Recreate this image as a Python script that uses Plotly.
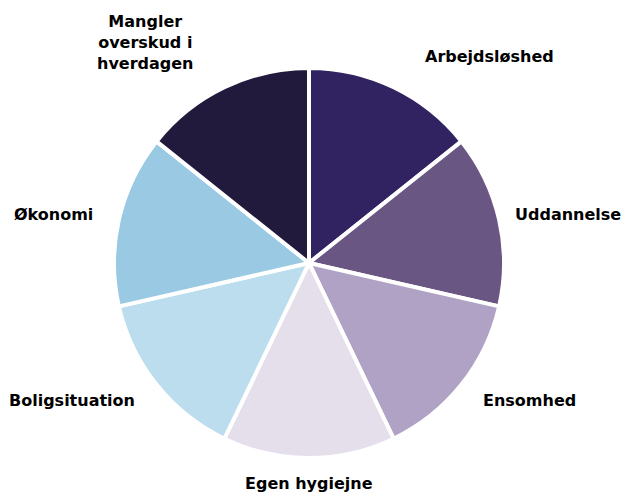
import math
import plotly.graph_objects as go

# Temaer - lige store andele
labels = ["Arbejdsløshed", "Uddannelse", "Ensomhed", "Egen hygiejne",
          "Boligsituation", "Økonomi", "Mangler<br>overskud i<br>hverdagen"]
values = [1, 1, 1, 1, 1, 1, 1]
colors = ["#312361", "#6a5683", "#b0a2c5", "#e5dfec",
          "#bcdded", "#99c9e3", "#211a3d"]

# page body has an 8px margin, so the figure is drawn 8px in from the corner
OFF = 8
W, H = 633 - OFF, 492 - OFF
cx, cy, r = 309 - OFF, 263 - OFF, 195

fig = go.Figure(go.Pie(
    labels=labels,
    values=values,
    marker=dict(colors=colors, line=dict(color="white", width=4)),
    sort=False,
    direction="clockwise",
    rotation=0,
    textinfo="none",
    hoverinfo="label",
    domain=dict(x=[(cx - r) / W, (cx + r) / W], y=[(H - cy - r) / H, (H - cy + r) / H]),
))

# labels placed outside, around each slice's mid angle
total = sum(values)
acc = 0
dist = 220
# hand nudges (pixels): top labels, and keep Uddannelse inside the edge
nudge = {0: (85, -8), 1: (-10, 0), 6: (-68, -22)}
for i, (lab, v) in enumerate(zip(labels, values)):
    mid = (acc + v / 2) / total * 2 * math.pi
    acc += v
    dx, dy = math.sin(mid), -math.cos(mid)
    px_, py_ = cx + dist * dx, cy + dist * dy
    if abs(dx) < 0.2 or dy < -0.8:
        xa = "center"
    elif dx > 0:
        xa = "left"
    else:
        xa = "right"
    nx, ny = nudge.get(i, (0, 0))
    fig.add_annotation(
        x=(px_ + nx) / W, y=1 - (py_ + ny) / H, xref="paper", yref="paper",
        text="<b>" + lab + "</b>", showarrow=False,
        xanchor=xa, yanchor="middle", align="center",
        font=dict(family="DejaVu Sans", size=16, color="#000000"),
    )

fig.update_layout(
    width=W, height=H,
    margin=dict(l=0, r=0, t=0, b=0),
    showlegend=False,
    paper_bgcolor="white",
    plot_bgcolor="white",
)

fig.write_html("out.html")
